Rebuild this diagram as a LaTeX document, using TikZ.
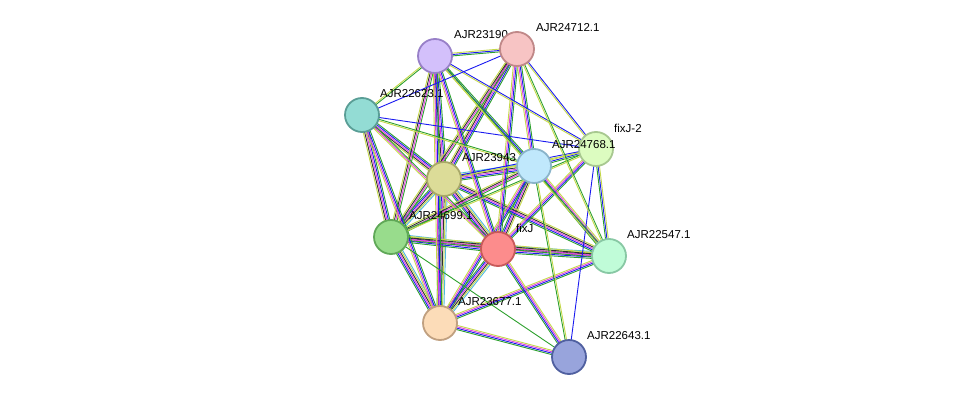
\documentclass[tikz,border=0pt]{standalone}
\usepackage{fontspec}
\setmainfont{Liberation Sans}
\usetikzlibrary{calc}
\definecolor{sg}{HTML}{2CA02C}\definecolor{sb}{HTML}{1A1AF0}\definecolor{sm}{HTML}{E040E0}
\definecolor{sy}{HTML}{C4D84A}\definecolor{sk}{HTML}{303030}\definecolor{sc}{HTML}{50B8E0}
\definecolor{f1}{HTML}{D3C0FB}\definecolor{d1}{HTML}{9880C8}
\definecolor{f2}{HTML}{F7C4C4}\definecolor{d2}{HTML}{C08888}
\definecolor{f3}{HTML}{93DCD4}\definecolor{d3}{HTML}{5A9E96}
\definecolor{f4}{HTML}{DCFCC0}\definecolor{d4}{HTML}{A8C890}
\definecolor{f5}{HTML}{C0E8FC}\definecolor{d5}{HTML}{8AB4CA}
\definecolor{f6}{HTML}{DCDC98}\definecolor{d6}{HTML}{A8A868}
\definecolor{f7}{HTML}{98DC8C}\definecolor{d7}{HTML}{60A858}
\definecolor{f8}{HTML}{FC8C8C}\definecolor{d8}{HTML}{C85A5A}
\definecolor{f9}{HTML}{C0FCD8}\definecolor{d9}{HTML}{88C8A4}
\definecolor{f10}{HTML}{FCDCB8}\definecolor{d10}{HTML}{C0A080}
\definecolor{f11}{HTML}{98A4DC}\definecolor{d11}{HTML}{5060A0}
\newcommand\ed[4]{\foreach \c [count=\k] in {#4}{\pgfmathsetmacro\o{(\k-(#3+1)/2)*1.4}
 \draw[\c,line width=0.9pt] ($(#1)!\o pt!90:(#2)$) -- ($(#2)!\o pt!-90:(#1)$);}}
\tikzset{prot/.style={circle,minimum size=34pt,inner sep=0,line width=1.8pt},
 lab/.style={anchor=west,font=\fontsize{11.5}{12}\selectfont,inner sep=0}}
\begin{document}
\begin{tikzpicture}[x=1pt,y=-1pt]
\useasboundingbox (0,0) rectangle (976,404);
\coordinate (a1) at (435,56); \coordinate (a2) at (517,49); \coordinate (a3) at (362,115);
\coordinate (a4) at (596,149); \coordinate (a5) at (534,166); \coordinate (a6) at (444,179);
\coordinate (a7) at (391,237); \coordinate (a8) at (498,249); \coordinate (a9) at (609,256);
\coordinate (a10) at (440,323); \coordinate (a11) at (569,357);
\ed{a6}{a8}{6}{sg,sb,sm,sk,sy,sc}
\ed{a6}{a7}{6}{sg,sb,sm,sk,sy,sc}
\ed{a6}{a10}{6}{sg,sb,sm,sk,sy,sc}
\ed{a6}{a5}{6}{sg,sb,sm,sk,sy,sc}
\ed{a7}{a8}{6}{sg,sb,sm,sk,sy,sc}
\ed{a8}{a10}{6}{sg,sb,sm,sk,sy,sc}
\ed{a7}{a10}{6}{sg,sb,sm,sk,sy,sc}
\ed{a8}{a9}{6}{sg,sb,sm,sk,sy,sc}
\ed{a5}{a8}{5}{sg,sb,sm,sk,sy}
\ed{a6}{a9}{5}{sg,sb,sm,sk,sy}
\ed{a6}{a2}{5}{sg,sb,sm,sk,sy}
\ed{a6}{a1}{5}{sg,sb,sm,sk,sy}
\ed{a6}{a3}{5}{sg,sb,sm,sk,sy}
\ed{a7}{a3}{5}{sg,sb,sm,sk,sy}
\ed{a7}{a1}{4}{sg,sm,sk,sy}
\ed{a7}{a2}{4}{sg,sm,sk,sy}
\ed{a7}{a5}{4}{sg,sm,sk,sy}
\ed{a7}{a9}{4}{sg,sm,sk,sy}
\ed{a10}{a3}{4}{sg,sb,sm,sy}
\ed{a10}{a1}{4}{sg,sb,sm,sy}
\ed{a10}{a5}{4}{sg,sb,sm,sy}
\ed{a10}{a9}{4}{sg,sb,sm,sy}
\ed{a10}{a11}{4}{sg,sb,sm,sy}
\ed{a8}{a11}{4}{sg,sb,sm,sy}
\ed{a8}{a4}{4}{sg,sb,sm,sy}
\ed{a8}{a1}{4}{sg,sb,sm,sy}
\ed{a8}{a2}{4}{sg,sb,sm,sy}
\ed{a8}{a3}{3}{sg,sm,sy}
\ed{a5}{a9}{4}{sg,sb,sm,sy}
\ed{a5}{a4}{3}{sg,sb,sy}
\ed{a5}{a2}{4}{sg,sb,sm,sy}
\ed{a5}{a1}{3}{sg,sb,sy}
\ed{a5}{a3}{2}{sg,sy}
\ed{a5}{a11}{2}{sg,sy}
\ed{a4}{a9}{3}{sg,sb,sy}
\ed{a4}{a2}{2}{sb,sy}
\ed{a4}{a1}{2}{sb,sy}
\ed{a4}{a3}{1}{sb}
\ed{a4}{a11}{1}{sb}
\ed{a4}{a6}{2}{sb,sy}
\ed{a4}{a7}{2}{sg,sy}
\ed{a9}{a2}{2}{sg,sy}
\ed{a9}{a1}{2}{sg,sy}
\ed{a1}{a2}{3}{sg,sb,sy}
\ed{a3}{a2}{1}{sb}
\ed{a3}{a1}{2}{sg,sy}
\ed{a7}{a11}{1}{sg}
\foreach \i/\x/\y/\t in {3/380/94/AJR22623.1, 1/454/35/AJR23190, 2/536/28/AJR24712.1,
  4/614/128/fixJ-2, 6/462/158/AJR23943, 5/552/145/AJR24768.1, 7/409/216/AJR24699.1,
  8/516/228/fixJ, 9/627/235/AJR22547.1, 10/458/302/AJR23677.1, 11/587/336/AJR22643.1}{
  \node[prot,fill=f\i,draw=d\i] (n\i) at (a\i) {};
  \node[lab] (l\i) at (\x,\y) {\t};}
\end{tikzpicture}
\end{document}
